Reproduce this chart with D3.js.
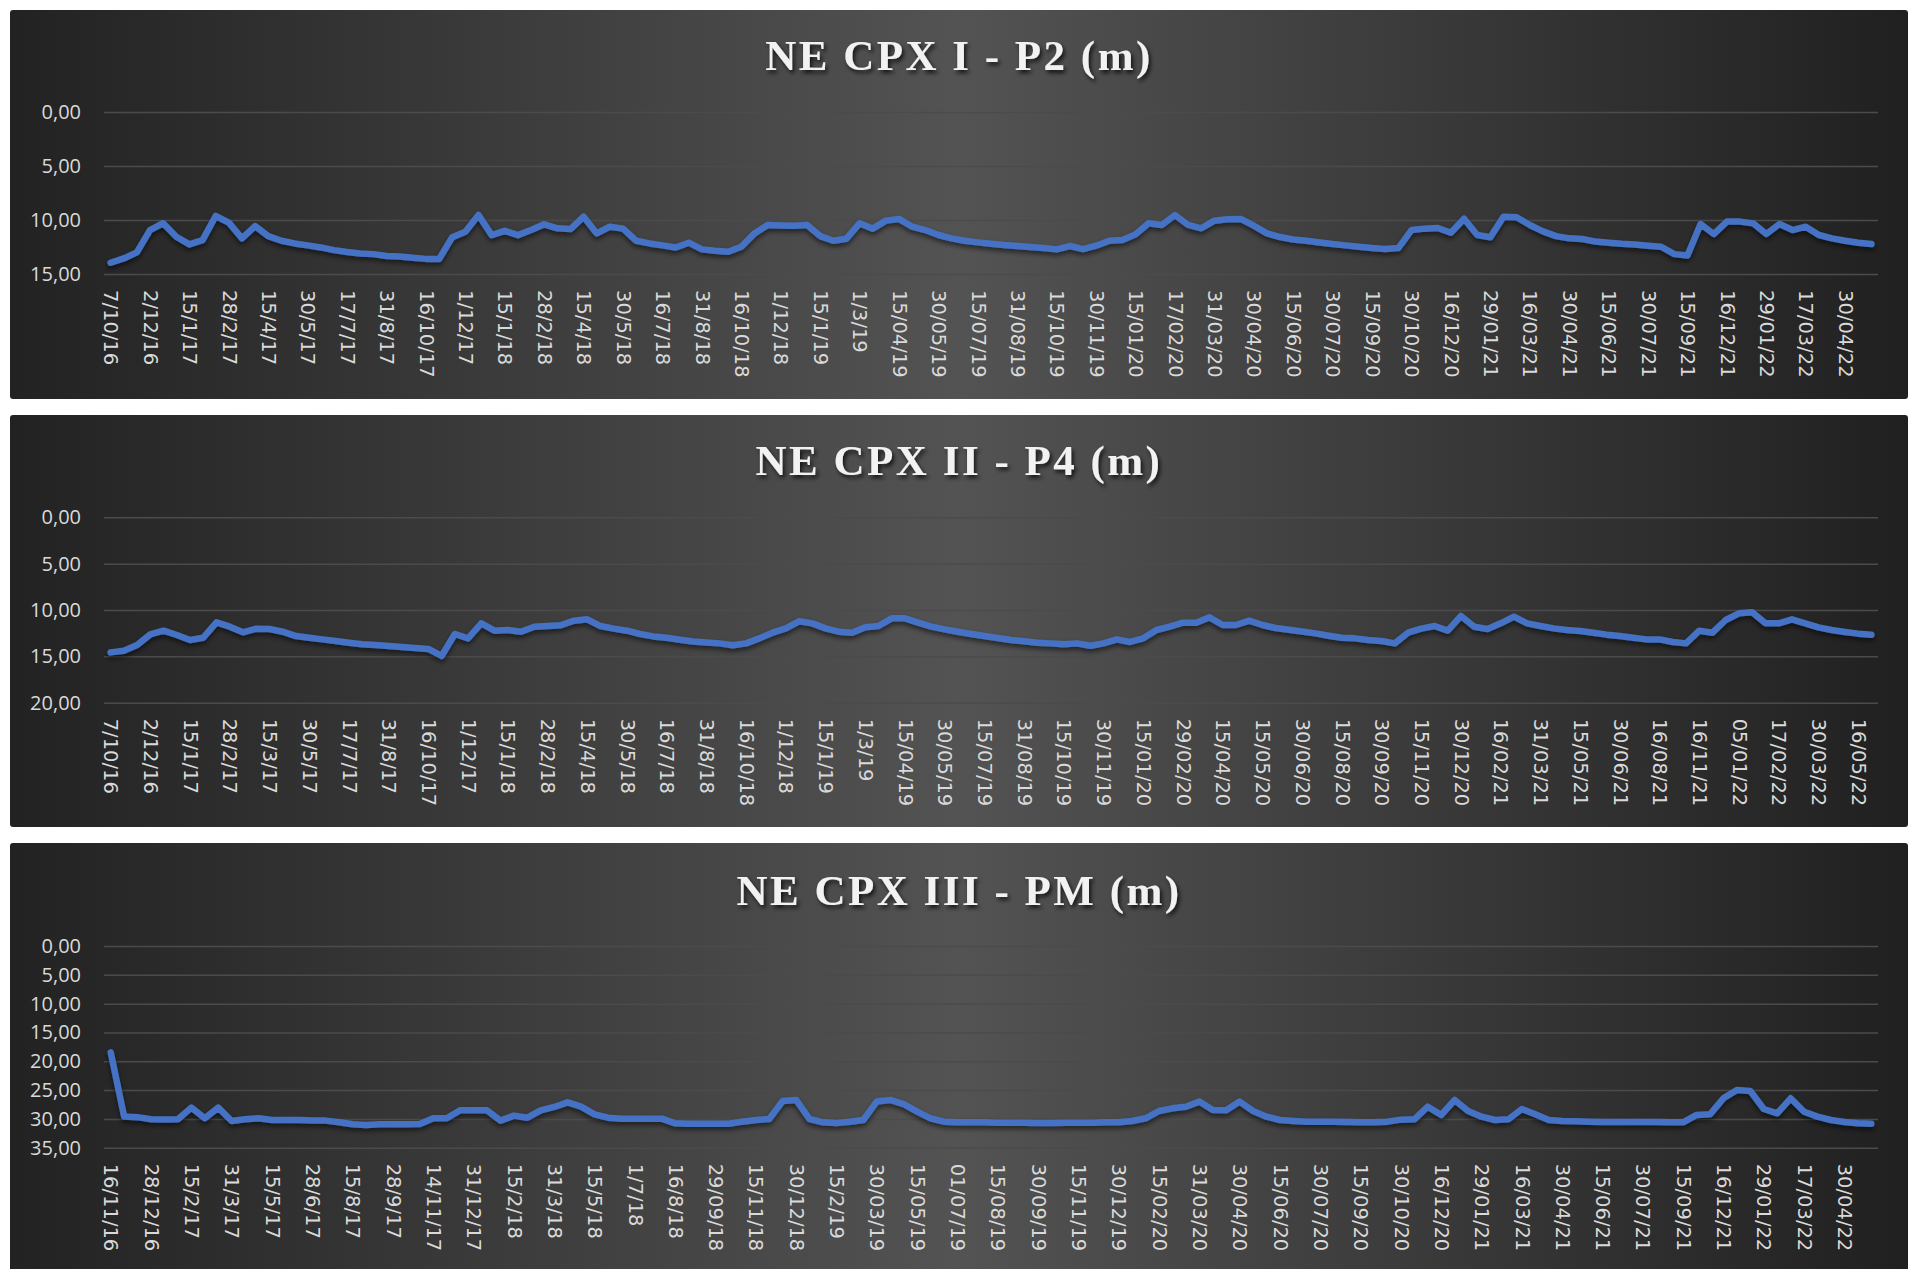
<!DOCTYPE html>
<html>
<head>
<meta charset="utf-8">
<script src="https://cdn.jsdelivr.net/npm/d3@7"></script>
<style>
    body { margin: 0; background: #ffffff; }
    svg { display: block; }
    .y-axis text { font-family: "Open Sans", sans-serif; font-size: 20px; fill: #d9d9d9; }
    .x-axis text { font-family: "DejaVu Sans", sans-serif; font-size: 19.5px; fill: #d9d9d9; }
    .y-axis line { stroke: #4b4b4b; stroke-width: 1.5; }
    .domain { display: none; }
    .title { font-family: "Liberation Serif", "Times New Roman", serif; font-weight: bold;
             font-size: 43px; letter-spacing: 2.5px; fill: #f2f2f2; }
    .depth-line { fill: none; stroke: #4472c4; stroke-width: 6.5; stroke-linejoin: round; stroke-linecap: round; }
</style>
</head>
<body>
<div id="chart"></div>
<script>
    // ---- data ----
    var titles = ["NE CPX I - P2 (m)", "NE CPX II - P4 (m)", "NE CPX III - PM (m)"];

    // every 3rd category is labelled on the axis
    var labels1 = ["7/10/16","2/12/16","15/1/17","28/2/17","15/4/17","30/5/17","17/7/17","31/8/17","16/10/17",
        "1/12/17","15/1/18","28/2/18","15/4/18","30/5/18","16/7/18","31/8/18","16/10/18","1/12/18","15/1/19",
        "1/3/19","15/04/19","30/05/19","15/07/19","31/08/19","15/10/19","30/11/19","15/01/20","17/02/20",
        "31/03/20","30/04/20","15/06/20","30/07/20","15/09/20","30/10/20","16/12/20","29/01/21","16/03/21",
        "30/04/21","15/06/21","30/07/21","15/09/21","16/12/21","29/01/22","17/03/22","30/04/22"];
    var values1 = [13.96,13.56,13.0,10.93,10.3,11.55,12.26,11.86,9.63,10.25,11.7,10.56,11.49,11.92,12.17,
        12.35,12.54,12.79,12.97,13.1,13.16,13.34,13.37,13.5,13.6,13.62,11.6,11.08,9.54,11.4,11.0,11.4,10.93,
        10.4,10.77,10.84,9.69,11.24,10.62,10.8,11.92,12.17,12.35,12.55,12.1,12.72,12.85,12.94,12.48,11.24,
        10.46,10.5,10.53,10.46,11.49,11.92,11.73,10.31,10.8,10.06,9.9,10.62,10.93,11.39,11.7,11.92,12.07,
        12.2,12.32,12.41,12.5,12.6,12.72,12.41,12.69,12.38,11.92,11.86,11.33,10.31,10.46,9.54,10.46,10.77,
        10.06,9.94,9.9,10.53,11.24,11.58,11.8,11.93,12.08,12.23,12.35,12.48,12.6,12.69,12.6,10.93,10.8,10.74,
        11.18,9.88,11.39,11.6,9.69,9.75,10.46,11.05,11.49,11.7,11.76,12.0,12.1,12.2,12.26,12.38,12.48,13.16,
        13.28,10.37,11.3,10.15,10.15,10.31,11.3,10.37,10.93,10.62,11.39,11.7,11.92,12.1,12.23];
    var ticks1 = [0, 5, 10, 15];

    var labels2 = ["7/10/16","2/12/16","15/1/17","28/2/17","15/3/17","30/5/17","17/7/17","31/8/17","16/10/17",
        "1/12/17","15/1/18","28/2/18","15/4/18","30/5/18","16/7/18","31/8/18","16/10/18","1/12/18","15/1/19",
        "1/3/19","15/04/19","30/05/19","15/07/19","31/08/19","15/10/19","30/11/19","15/01/20","29/02/20",
        "15/04/20","15/05/20","30/06/20","15/08/20","30/09/20","15/11/20","30/12/20","16/02/21","31/03/21",
        "15/05/21","30/06/21","16/08/21","16/11/21","05/01/22","17/02/22","30/03/22","16/05/22"];
    var values2 = [14.57,14.39,13.78,12.63,12.23,12.7,13.24,12.99,11.33,11.8,12.41,12.01,12.05,12.34,12.81,
        12.99,13.17,13.35,13.53,13.7,13.78,13.88,13.99,14.1,14.2,14.96,12.59,13.06,11.44,12.23,12.16,12.34,
        11.8,11.73,11.65,11.15,11.0,11.73,12.01,12.23,12.59,12.85,13.0,13.2,13.4,13.5,13.6,13.8,13.6,13.06,
        12.45,11.98,11.22,11.44,11.98,12.34,12.45,11.87,11.73,10.9,10.9,11.37,11.8,12.09,12.34,12.59,12.81,
        13.02,13.24,13.38,13.53,13.6,13.7,13.6,13.85,13.6,13.17,13.45,13.06,12.16,11.8,11.37,11.37,10.79,
        11.62,11.62,11.15,11.62,11.94,12.12,12.32,12.52,12.77,13.0,13.06,13.24,13.35,13.6,12.45,12.01,11.73,
        12.23,10.65,11.8,12.05,11.44,10.72,11.44,11.73,11.98,12.16,12.27,12.45,12.66,12.81,12.99,13.17,13.17,
        13.45,13.6,12.23,12.45,11.08,10.36,10.25,11.44,11.44,11.0,11.44,11.87,12.16,12.37,12.55,12.66];
    var ticks2 = [0, 5, 10, 15, 20];

    var labels3 = ["16/11/16","28/12/16","15/2/17","31/3/17","15/5/17","28/6/17","15/8/17","28/9/17","14/11/17",
        "31/12/17","15/2/18","31/3/18","15/5/18","1/7/18","16/8/18","29/09/18","15/11/18","30/12/18","15/2/19",
        "30/03/19","15/05/19","01/07/19","15/08/19","30/09/19","15/11/19","30/12/19","15/02/20","31/03/20",
        "30/04/20","15/06/20","30/07/20","15/09/20","30/10/20","16/12/20","29/01/21","16/03/21","30/04/21",
        "15/06/21","30/07/21","15/09/21","16/12/21","29/01/22","17/03/22","30/04/22"];
    var values3 = [18.45,29.6,29.7,30.07,30.1,30.07,28.05,29.9,28.05,30.36,30.07,29.9,30.19,30.19,30.19,30.3,
        30.3,30.6,30.94,31.06,30.94,30.94,30.94,30.88,29.9,29.9,28.51,28.51,28.51,30.3,29.44,29.79,28.51,
        27.93,27.13,27.88,29.21,29.79,29.96,29.96,29.96,29.96,30.77,30.83,30.83,30.83,30.83,30.48,30.19,30.02,
        26.9,26.72,30.02,30.6,30.71,30.48,30.19,27.0,26.72,27.42,28.75,29.9,30.48,30.6,30.6,30.6,30.65,30.65,
        30.65,30.71,30.71,30.65,30.65,30.65,30.6,30.6,30.36,29.9,28.63,28.17,27.88,27.0,28.46,28.51,27.0,28.63,
        29.61,30.19,30.36,30.48,30.48,30.48,30.54,30.6,30.6,30.48,30.13,30.07,27.88,29.32,26.72,28.63,29.61,
        30.19,30.07,28.28,29.21,30.19,30.36,30.42,30.48,30.54,30.54,30.54,30.54,30.54,30.6,30.6,29.32,29.21,
        26.43,24.99,25.16,28.28,29.03,26.43,28.75,29.61,30.19,30.54,30.77,30.83];
    var ticks3 = [0, 5, 10, 15, 20, 25, 30, 35];

    // ---- layout ----
    var W = 1921, H = 1269;
    var plotLeft = 104, plotRight = 1878;
    var panels = [
        {labels: labels1, values: values1, ticks: ticks1, title: titles[0], top: 10,  bottom: 399,  plotTop: 112,   plotBottom: 274,   titleY: 70},
        {labels: labels2, values: values2, ticks: ticks2, title: titles[1], top: 415, bottom: 827,  plotTop: 517.3, plotBottom: 702.7, titleY: 475},
        {labels: labels3, values: values3, ticks: ticks3, title: titles[2], top: 843, bottom: 1290, plotTop: 946,   plotBottom: 1147.7, titleY: 905}
    ];

    var ptBR = d3.formatLocale({decimal: ",", thousands: ".", grouping: [3], currency: ["", ""]});
    var fmt = ptBR.format(".2f");

    var svg = d3.select("#chart").append("svg")
        .attr("width", W)
        .attr("height", H);

    var defs = svg.append("defs");
    var grad = defs.append("linearGradient")
        .attr("id", "panelFill")
        .attr("x1", "0%").attr("x2", "100%")
        .attr("y1", "0%").attr("y2", "0%");
    grad.append("stop").attr("offset", "0%").attr("stop-color", "#222222");
    grad.append("stop").attr("offset", "50%").attr("stop-color", "#535353");
    grad.append("stop").attr("offset", "100%").attr("stop-color", "#202020");

    var titleShadow = defs.append("filter").attr("id", "titleShadow")
        .attr("x", "-10%").attr("y", "-30%").attr("width", "120%").attr("height", "160%");
    titleShadow.append("feDropShadow")
        .attr("dx", 2).attr("dy", 3).attr("stdDeviation", 2)
        .attr("flood-color", "#000").attr("flood-opacity", 0.75);

    var lineShadow = defs.append("filter").attr("id", "lineShadow")
        .attr("x", "-5%").attr("y", "-50%").attr("width", "110%").attr("height", "200%");
    lineShadow.append("feDropShadow")
        .attr("dx", 0).attr("dy", 3).attr("stdDeviation", 2.5)
        .attr("flood-color", "#000").attr("flood-opacity", 0.55);

    panels.forEach(function (p) {
        drawPanel(p);
    });

    function drawPanel(p) {
        var g = svg.append("g");

        g.append("rect")
            .attr("x", 10)
            .attr("y", p.top)
            .attr("width", 1898)
            .attr("height", p.bottom - p.top)
            .attr("rx", 3)
            .attr("fill", "url(#panelFill)");

        var x = d3.scalePoint()
            .domain(d3.range(p.values.length))
            .range([plotLeft, plotRight])
            .padding(0.5);

        var y = d3.scaleLinear()
            .domain([0, p.ticks[p.ticks.length - 1]])
            .range([p.plotTop, p.plotBottom]);

        // y gridlines + labels
        g.append("g")
            .attr("class", "y-axis")
            .attr("transform", "translate(" + plotLeft + ",0)")
            .call(d3.axisLeft(y)
                .tickValues(p.ticks)
                .tickSize(-(plotRight - plotLeft))
                .tickPadding(23)
                .tickFormat(fmt));

        // category labels, one every 3 points, rotated
        var xAxis = g.append("g")
            .attr("class", "x-axis")
            .attr("transform", "translate(0," + p.plotBottom + ")")
            .call(d3.axisBottom(x)
                .tickValues(d3.range(0, p.values.length, 3))
                .tickSize(0)
                .tickFormat(function (i) { return p.labels[i / 3]; }));

        xAxis.selectAll("text")
            .attr("transform", "rotate(90)")
            .attr("x", 16)
            .attr("y", 0)
            .attr("dy", "0.35em")
            .style("text-anchor", "start");

        var line = d3.line()
            .x(function (d, i) { return x(i); })
            .y(function (d) { return y(d); });

        g.append("path")
            .datum(p.values)
            .attr("class", "depth-line")
            .attr("filter", "url(#lineShadow)")
            .attr("d", line);

        g.append("text")
            .attr("class", "title")
            .attr("x", 959)
            .attr("y", p.titleY)
            .attr("text-anchor", "middle")
            .attr("filter", "url(#titleShadow)")
            .text(p.title);
    }
</script>
</body>
</html>
